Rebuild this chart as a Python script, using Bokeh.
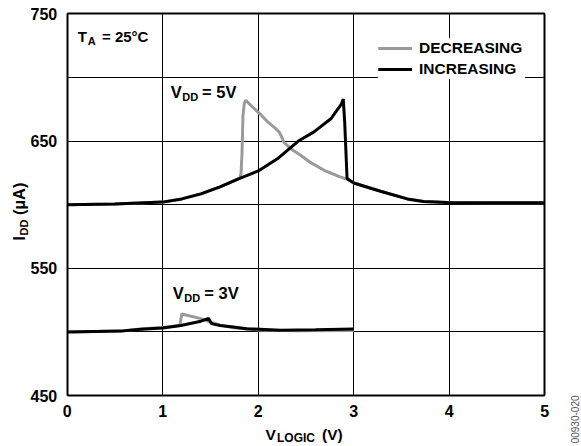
import math
from bokeh.plotting import figure
from bokeh.models import Range1d, FixedTicker, Label, Legend, LegendItem, LinearAxis, Grid
from bokeh.embed import file_html
from bokeh.resources import INLINE

# ---------------- data ----------------
# VDD = 5V, V_LOGIC increasing (black)
v5_inc_x = [0.0, 0.5, 1.0, 1.2, 1.4, 1.6, 1.8, 2.0, 2.2, 2.42, 2.58, 2.76, 2.87, 2.89, 2.905, 2.93, 3.0, 3.28, 3.56, 3.73, 3.98, 4.5, 5.0]
v5_inc_y = [600.0, 600.5, 602.0, 604.5, 608.5, 614.0, 620.5, 626.5, 636.0, 650.0, 657.0, 667.5, 679.0, 683.0, 665.0, 620.5, 617.0, 610.5, 604.5, 602.5, 601.7, 601.5, 601.5]
# VDD = 5V, V_LOGIC decreasing (grey)
v5_dec_x = [5.0, 4.5, 3.98, 3.73, 3.56, 3.28, 3.0, 2.93, 2.85, 2.69, 2.55, 2.44, 2.34, 2.27, 2.24, 2.22, 2.18, 2.10, 2.03, 1.95, 1.87, 1.855, 1.84, 1.83, 1.82, 1.81, 1.6, 1.4, 1.2, 1.0, 0.5, 0.0]
v5_dec_y = [601.5, 601.5, 601.7, 602.5, 604.5, 610.5, 617.0, 620.0, 622.0, 627.0, 633.0, 639.0, 644.0, 649.0, 654.0, 657.0, 660.0, 665.0, 670.5, 676.0, 682.0, 680.0, 670.0, 640.0, 625.0, 621.0, 614.0, 608.5, 604.5, 602.0, 600.5, 600.0]
# VDD = 3V, increasing (black)
v3_inc_x = [0.0, 0.56, 0.77, 1.0, 1.19, 1.4, 1.48, 1.51, 1.6, 1.74, 1.88, 2.23, 2.6, 3.0]
v3_inc_y = [500.0, 500.6, 502.0, 503.0, 505.0, 508.4, 510.6, 506.5, 505.0, 503.8, 502.5, 501.3, 501.6, 502.2]
# VDD = 3V, decreasing (grey)
v3_dec_x = [3.0, 2.4, 2.0, 1.74, 1.6, 1.5, 1.4, 1.2, 1.19, 1.18, 1.0, 0.8, 0.56, 0.0]
v3_dec_y = [501.0, 500.8, 501.5, 503.3, 505.3, 507.8, 510.4, 514.0, 510.0, 505.0, 503.5, 502.5, 500.7, 500.0]

x_ticks = [0, 1, 2, 3, 4, 5]
y_ticks = [450, 500, 550, 600, 650, 700, 750]
y_tick_labels = {450: "450", 500: "", 550: "550", 600: "", 650: "650", 700: "", 750: "750"}
series_names = ["DECREASING", "INCREASING"]
X_MIN, X_MAX = 0.0, 5.0
Y_MIN, Y_MAX = 450.0, 750.0

GREY = "#9a9a9a"
FONT = "Liberation Sans"

# ---------------- layout: the frame covers the whole canvas ----------------
W, H = 581, 446
BL, BR, BT, BB = 66.7, 544.3, 13.3, 395.0      # pixel box of the data area
sx = (BR - BL) / (X_MAX - X_MIN)
sy = (BB - BT) / (Y_MAX - Y_MIN)
xr = Range1d(X_MIN - BL / sx, X_MAX + (W - BR) / sx)
yr = Range1d(Y_MIN - (H - BB) / sy, Y_MAX + BT / sy)

def rx(px):
    return X_MIN + (px - BL) / sx
def ry(py):
    return Y_MAX - (py - BT) / sy

p = figure(width=W, height=H, output_backend="svg", toolbar_location=None,
           x_range=xr, y_range=yr,
           min_border_left=0, min_border_right=0, min_border_top=0, min_border_bottom=0)
p.background_fill_color = "white"
p.border_fill_color = "white"
p.outline_line_color = None

# main axes fixed at the data-box edges
p.xaxis.fixed_location = Y_MIN
p.yaxis.fixed_location = X_MIN
p.xaxis.bounds = (X_MIN, X_MAX)
p.yaxis.bounds = (Y_MIN, Y_MAX)
p.xaxis.ticker = FixedTicker(ticks=x_ticks)
p.yaxis.ticker = FixedTicker(ticks=y_ticks)
p.yaxis.major_label_overrides = y_tick_labels
for ax in (p.xaxis, p.yaxis):
    ax.axis_line_color = "black"
    ax.axis_line_width = 2
    ax.major_tick_in = 0
    ax.major_tick_out = 0
    ax.minor_tick_in = 0
    ax.minor_tick_out = 0
    ax.major_label_text_font = FONT
    ax.major_label_text_font_style = "bold"
    ax.major_label_text_font_size = "16px"
    ax.major_label_text_color = "black"
p.xaxis.major_label_standoff = 9
p.yaxis.major_label_standoff = 10

# right and top edges of the box
right_ax = LinearAxis(fixed_location=X_MAX, bounds=(Y_MIN, Y_MAX), ticker=FixedTicker(ticks=[]),
                      axis_line_width=2, major_tick_out=0, minor_tick_out=0,
                      major_label_text_font_size="0px")
top_ax = LinearAxis(fixed_location=Y_MAX, bounds=(X_MIN, X_MAX), ticker=FixedTicker(ticks=[]),
                    axis_line_width=2, major_tick_out=0, minor_tick_out=0,
                    major_label_text_font_size="0px")
p.add_layout(right_ax, "right")
p.add_layout(top_ax, "above")

# grid limited to the data box
has_cross = "cross_bounds" in Grid.properties()
p.xgrid.ticker = FixedTicker(ticks=x_ticks)
p.ygrid.ticker = FixedTicker(ticks=y_ticks)
for g in (p.xgrid, p.ygrid):
    g.grid_line_color = "black"
    g.grid_line_width = 1
p.xgrid.bounds = (X_MIN, X_MAX)
p.ygrid.bounds = (Y_MIN, Y_MAX)
if has_cross:
    p.xgrid.cross_bounds = (Y_MIN, Y_MAX)
    p.ygrid.cross_bounds = (X_MIN, X_MAX)
else:
    p.xgrid.visible = False
    p.ygrid.visible = False
    p.segment(x0=x_ticks, y0=[Y_MIN] * len(x_ticks), x1=x_ticks, y1=[Y_MAX] * len(x_ticks),
              line_color="black", line_width=1)
    p.segment(x0=[X_MIN] * len(y_ticks), y0=y_ticks, x1=[X_MAX] * len(y_ticks), y1=y_ticks,
              line_color="black", line_width=1)

# ---------------- curves ----------------
g5 = p.line(v5_dec_x, v5_dec_y, line_color=GREY, line_width=3)
g3 = p.line(v3_dec_x, v3_dec_y, line_color=GREY, line_width=3)
b5 = p.line(v5_inc_x, v5_inc_y, line_color="black", line_width=3)
b3 = p.line(v3_inc_x, v3_inc_y, line_color="black", line_width=3)

legend = Legend(items=[LegendItem(label=series_names[0], renderers=[g5, g3]),
                       LegendItem(label=series_names[1], renderers=[b5, b3])],
                location=(378, 367), orientation="vertical",
                label_text_font=FONT, label_text_font_style="bold", label_text_font_size="15.5px",
                label_text_color="black",
                glyph_width=34, glyph_height=20, label_height=20, label_width=106,
                label_standoff=7, spacing=1, padding=4, margin=0,
                border_line_color=None, background_fill_color="white", background_fill_alpha=1.0)
p.add_layout(legend)

def lab(text, px, py, size_px, angle=0.0, align="left", style="bold", color="black"):
    # measured baseline positions; renderer places text ~0.4em lower/righter than asked
    shift = 0.4 * size_px
    if angle == 0.0:
        py = py - shift
    else:
        px = px - shift
    p.add_layout(Label(text=text, x=rx(px), y=ry(py), x_units="data", y_units="data", angle=angle,
                       text_font=FONT, text_font_size=f"{size_px}px", text_font_style=style,
                       text_color=color, text_align=align, text_baseline="alphabetic"))

# T_A = 25°C
lab("T", 77.3, 41.7, 15)
lab("A", 87.3, 45.2, 11)
lab("= 25°C", 101.5, 41.7, 15)
# V_DD = 5V
lab("V", 170.3, 98.3, 16.5)
lab("DD", 181.8, 101.0, 11)
lab("= 5V", 201.5, 98.3, 16.5)
# V_DD = 3V
lab("V", 172.3, 299.0, 16.5)
lab("DD", 183.8, 301.7, 11)
lab("= 3V", 203.8, 299.0, 16.5)
# x axis title
lab("V", 265.0, 440.0, 15.5)
lab("LOGIC", 276.5, 442.5, 12)
lab("(V)", 321.5, 440.0, 15.5)
# y axis title (rotated)
half = math.pi / 2
lab("I", 25.0, 240.0, 16, angle=half)
lab("DD", 28.0, 235.0, 11, angle=half)
lab("(µA)", 25.0, 214.5, 16.5, angle=half)
# figure code at the right edge
lab("00930-020", 578.0, 395.0, 10, angle=half, align="right", style="normal", color="#555555")

open("out.html", "w").write(file_html(p, INLINE))
